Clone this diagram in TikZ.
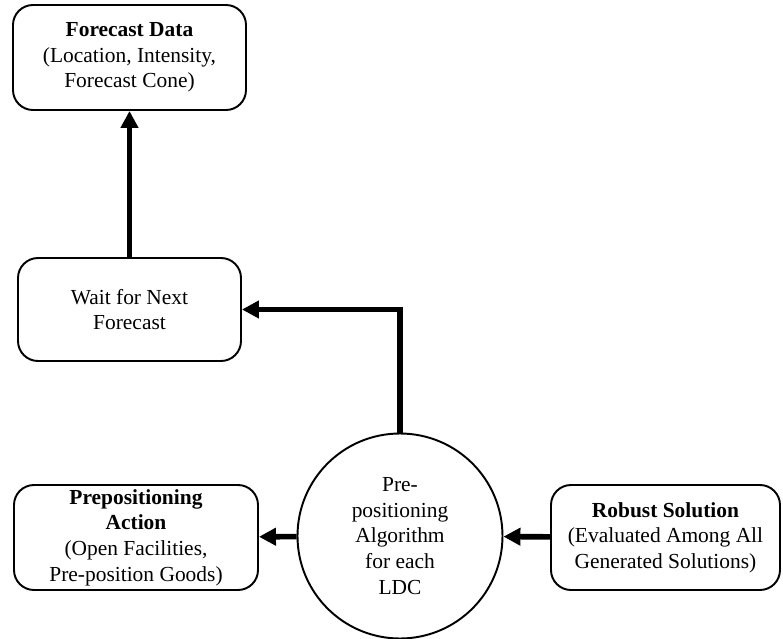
\documentclass[tikz,border=0pt]{standalone}
\usepackage{fontspec}
\setmainfont{Liberation Serif}
\usetikzlibrary{arrows.meta}
\tikzset{
  panel/.style={draw, line width=1.1pt, rounded corners=0.4cm, align=center,
    minimum height=2.1cm, inner sep=2pt, font=\fontsize{12.2}{14.6}\selectfont},
  algo/.style={draw, circle, line width=1.1pt, align=center, minimum size=4.1cm,
    inner sep=0pt, font=\fontsize{12.2}{14.6}\selectfont},
  flow/.style={-{Triangle[length=0.34cm, width=0.34cm]}, line width=3.2pt}
}
\begin{document}
\begin{tikzpicture}
 \useasboundingbox (0,0) rectangle (15.66,-12.78);
%
 \node[panel, minimum width=4.66cm] (forecast) at (2.59,-1.15)
   {\textbf{Forecast Data}\\(Location, Intensity,\\Forecast Cone)};
 \node[panel, minimum width=4.46cm, minimum height=2.06cm] (wait) at (2.59,-6.19)
   {Wait for Next\\Forecast};
 \node[panel, minimum width=4.88cm] (action) at (2.72,-10.75)
   {\textbf{Prepositioning}\\\textbf{Action}\\(Open Facilities,\\Pre-position Goods)};
 \node[algo] (algorithm) at (8.0,-10.72)
   {Pre-\\positioning\\Algorithm\\for each\\LDC};
 \node[panel, minimum width=4.58cm] (robust) at (13.31,-10.75)
   {\textbf{Robust Solution}\\(Evaluated Among All\\Generated Solutions)};
%
 \draw[flow] (wait) -- (forecast);
 \draw[flow] (algorithm.north) |- (wait.east);
 \draw[flow] (algorithm) -- (action);
 \draw[flow] (robust) -- (algorithm);
\end{tikzpicture}
\end{document}
